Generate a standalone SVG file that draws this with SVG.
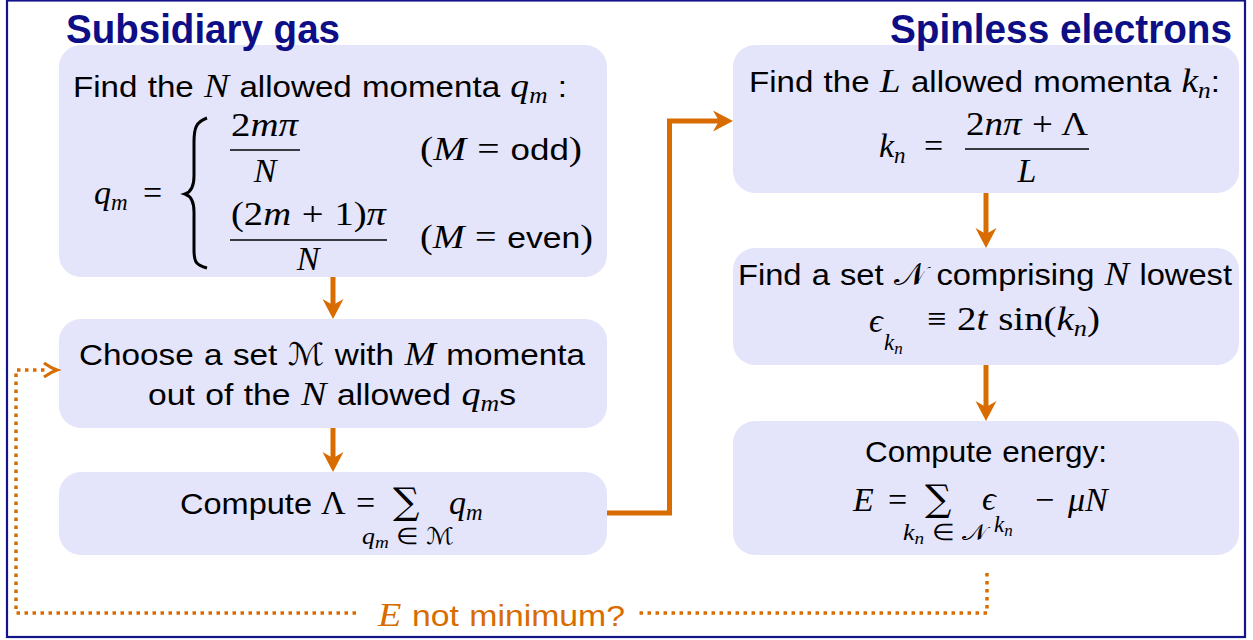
<svg xmlns="http://www.w3.org/2000/svg" width="1253" height="640" viewBox="0 0 1253 640">
<style>
.box{fill:#E4E4FA}
.t{font-family:"Liberation Sans",Arial,sans-serif;font-size:30px;fill:#000;word-spacing:1px}
.m{font-family:"Liberation Serif","Times New Roman",serif;font-style:italic;font-size:34px}
.r{font-family:"Liberation Serif","Times New Roman",serif;font-style:normal;font-size:34px}
.cal{font-family:"DejaVu Sans",sans-serif;font-style:normal;font-size:31px}
.sb{font-size:23px}
.ss{font-size:17px}
.big{font-family:"DejaVu Serif",serif;font-size:37px;font-style:normal}
.title{font-family:"Liberation Sans",Arial,sans-serif;font-weight:bold;font-size:40px;fill:#0E0E86}
.conn{fill:none;stroke:#D86C00;stroke-width:5}
.dot{fill:none;stroke:#D86C00;stroke-width:3.5;stroke-dasharray:3.5 4.5}
.bar{stroke:#000;stroke-width:1.6}
.or{fill:#D86C00}
</style>
<defs>
<marker id="ah" viewBox="-12 -12 24 24" refX="0" refY="0" markerWidth="24" markerHeight="24" markerUnits="userSpaceOnUse" orient="auto">
<path d="M10,0 L-10,-10.5 L-4,0 L-10,10.5 Z" fill="#D86C00"/>
</marker>
</defs>
<rect x="7" y="0.5" width="1238" height="636.5" fill="#fff" stroke="#14148A" stroke-width="2.2"/>

<g id="node-allowed-q">
<rect class="box" x="59" y="45" width="548" height="232" rx="22"/>
<text class="t" x="73" y="97" textLength="494" lengthAdjust="spacingAndGlyphs">Find the <tspan class="m">N</tspan> allowed momenta <tspan class="m">q</tspan><tspan class="m sb" dy="6">m</tspan><tspan dy="-6"> :</tspan></text>
<text class="t" x="94" y="204"><tspan class="m">q</tspan><tspan class="m sb" dy="6">m</tspan></text>
<text class="r" x="143" y="204">=</text>
<path d="M207,118 C196,122 194,128 194,142 L194,176 C194,187 191,192 185,194 C191,196 194,201 194,212 L194,250 C194,262 196,265 207,268" fill="none" stroke="#000" stroke-width="3"/>
<text class="t" x="231" y="136" textLength="67" lengthAdjust="spacingAndGlyphs"><tspan class="r">2</tspan><tspan class="m">mπ</tspan></text>
<line class="bar" x1="230" y1="150" x2="300" y2="150"/>
<text class="m" x="265" y="182" text-anchor="middle">N</text>
<text class="t" x="420" y="160" textLength="162" lengthAdjust="spacingAndGlyphs"><tspan class="r">(</tspan><tspan class="m">M</tspan><tspan class="r"> = </tspan>odd<tspan class="r">)</tspan></text>
<text class="t" x="231" y="225" textLength="155" lengthAdjust="spacingAndGlyphs"><tspan class="r">(2</tspan><tspan class="m">m</tspan><tspan class="r"> + 1)</tspan><tspan class="m">π</tspan></text>
<line class="bar" x1="230" y1="240" x2="387" y2="240"/>
<text class="m" x="308" y="270" text-anchor="middle">N</text>
<text class="t" x="420" y="248" textLength="173" lengthAdjust="spacingAndGlyphs"><tspan class="r">(</tspan><tspan class="m">M</tspan><tspan class="r"> = </tspan>even<tspan class="r">)</tspan></text>
</g>

<g id="node-choose-set">
<rect class="box" x="59" y="319" width="548" height="109" rx="22"/>
<text class="t" x="79" y="365" textLength="506" lengthAdjust="spacingAndGlyphs">Choose a set <tspan class="cal">ℳ</tspan> with <tspan class="m">M</tspan> momenta</text>
<text class="t" x="148" y="405" textLength="368" lengthAdjust="spacingAndGlyphs">out of the <tspan class="m">N</tspan> allowed <tspan class="m">q</tspan><tspan class="m sb" dy="6">m</tspan><tspan dy="-6">s</tspan></text>
</g>

<g id="node-compute-lambda">
<rect class="box" x="59" y="472" width="548" height="83" rx="22"/>
<text class="t" x="180" y="514" textLength="132" lengthAdjust="spacingAndGlyphs">Compute</text>
<text class="r" x="321" y="514">Λ</text>
<text class="r" x="356" y="514">=</text>
<text class="big" x="393" y="514">∑</text>
<text class="t" x="449" y="514"><tspan class="m">q</tspan><tspan class="m sb" dy="6">m</tspan></text>
<text class="t" x="362" y="544" textLength="92" lengthAdjust="spacingAndGlyphs"><tspan class="m sb">q</tspan><tspan class="m ss" dy="4">m</tspan><tspan class="r sb" dy="-4"> ∈ </tspan><tspan class="cal sb">ℳ</tspan></text>
</g>

<g id="node-allowed-k">
<rect class="box" x="733" y="45" width="506" height="148" rx="22"/>
<text class="t" x="749" y="92" textLength="471" lengthAdjust="spacingAndGlyphs">Find the <tspan class="m">L</tspan> allowed momenta <tspan class="m">k</tspan><tspan class="m sb" dy="6">n</tspan><tspan dy="-6">:</tspan></text>
<text class="t" x="879" y="157"><tspan class="m">k</tspan><tspan class="m sb" dy="6">n</tspan></text>
<text class="r" x="924" y="157">=</text>
<text class="t" x="966" y="135" textLength="122" lengthAdjust="spacingAndGlyphs"><tspan class="r">2</tspan><tspan class="m">nπ</tspan><tspan class="r"> + Λ</tspan></text>
<line class="bar" x1="965" y1="149" x2="1089" y2="149"/>
<text class="m" x="1027" y="182" text-anchor="middle">L</text>
</g>

<g id="node-lowest-set">
<rect class="box" x="733" y="248" width="506" height="117" rx="22"/>
<text class="t" x="738" y="285" textLength="494" lengthAdjust="spacingAndGlyphs">Find a set <tspan class="cal">𝒩</tspan> comprising <tspan class="m">N</tspan> lowest</text>
<text class="m" x="869" y="332">ϵ</text>
<text class="t" x="884" y="350"><tspan class="m sb">k</tspan><tspan class="m ss" dy="4">n</tspan></text>
<text class="r" x="927" y="330">≡</text>
<text class="t" x="957" y="330" textLength="143" lengthAdjust="spacingAndGlyphs"><tspan class="r">2</tspan><tspan class="m">t</tspan><tspan class="r"> sin(</tspan><tspan class="m">k</tspan><tspan class="m sb" dy="6">n</tspan><tspan class="r" dy="-6">)</tspan></text>
</g>

<g id="node-energy">
<rect class="box" x="733" y="421" width="506" height="134" rx="22"/>
<text class="t" x="865" y="462" textLength="242" lengthAdjust="spacingAndGlyphs">Compute energy:</text>
<text class="m" x="853" y="511">E</text>
<text class="r" x="888" y="511">=</text>
<text class="big" x="925" y="511">∑</text>
<text class="m" x="982" y="510">ϵ</text>
<text class="t" x="994" y="532"><tspan class="m sb">k</tspan><tspan class="m ss" dy="4">n</tspan></text>
<text class="r" x="1035" y="511">−</text>
<text class="m" x="1068" y="511">μN</text>
<text class="t" x="903" y="540" textLength="84" lengthAdjust="spacingAndGlyphs"><tspan class="m sb">k</tspan><tspan class="m ss" dy="4">n</tspan><tspan class="r sb" dy="-4"> ∈ </tspan><tspan class="cal sb">𝒩</tspan></text>
</g>

<text class="title" x="66" y="43" textLength="274" lengthAdjust="spacingAndGlyphs">Subsidiary gas</text>
<text class="title" x="890" y="43" textLength="342" lengthAdjust="spacingAndGlyphs">Spinless electrons</text>

<g id="connectors">
<path class="conn" d="M333,277 V309" marker-end="url(#ah)"/>
<path class="conn" d="M333,428 V462" marker-end="url(#ah)"/>
<path class="conn" d="M986,193 V238" marker-end="url(#ah)"/>
<path class="conn" d="M986,365 V411" marker-end="url(#ah)"/>
<path class="conn" d="M607,513 H669.5 V121 H723" marker-end="url(#ah)"/>
<path class="dot" d="M987,573 V613 H638"/>
<path class="dot" d="M356,613 H16 V370 H46"/>
<path d="M44,363 Q51,368 57,370 Q51,372 44,377" fill="none" stroke="#D86C00" stroke-width="3"/>
<text class="t or" x="378" y="626" textLength="247" lengthAdjust="spacingAndGlyphs"><tspan class="m">E</tspan> not minimum?</text>
</g>
</svg>
